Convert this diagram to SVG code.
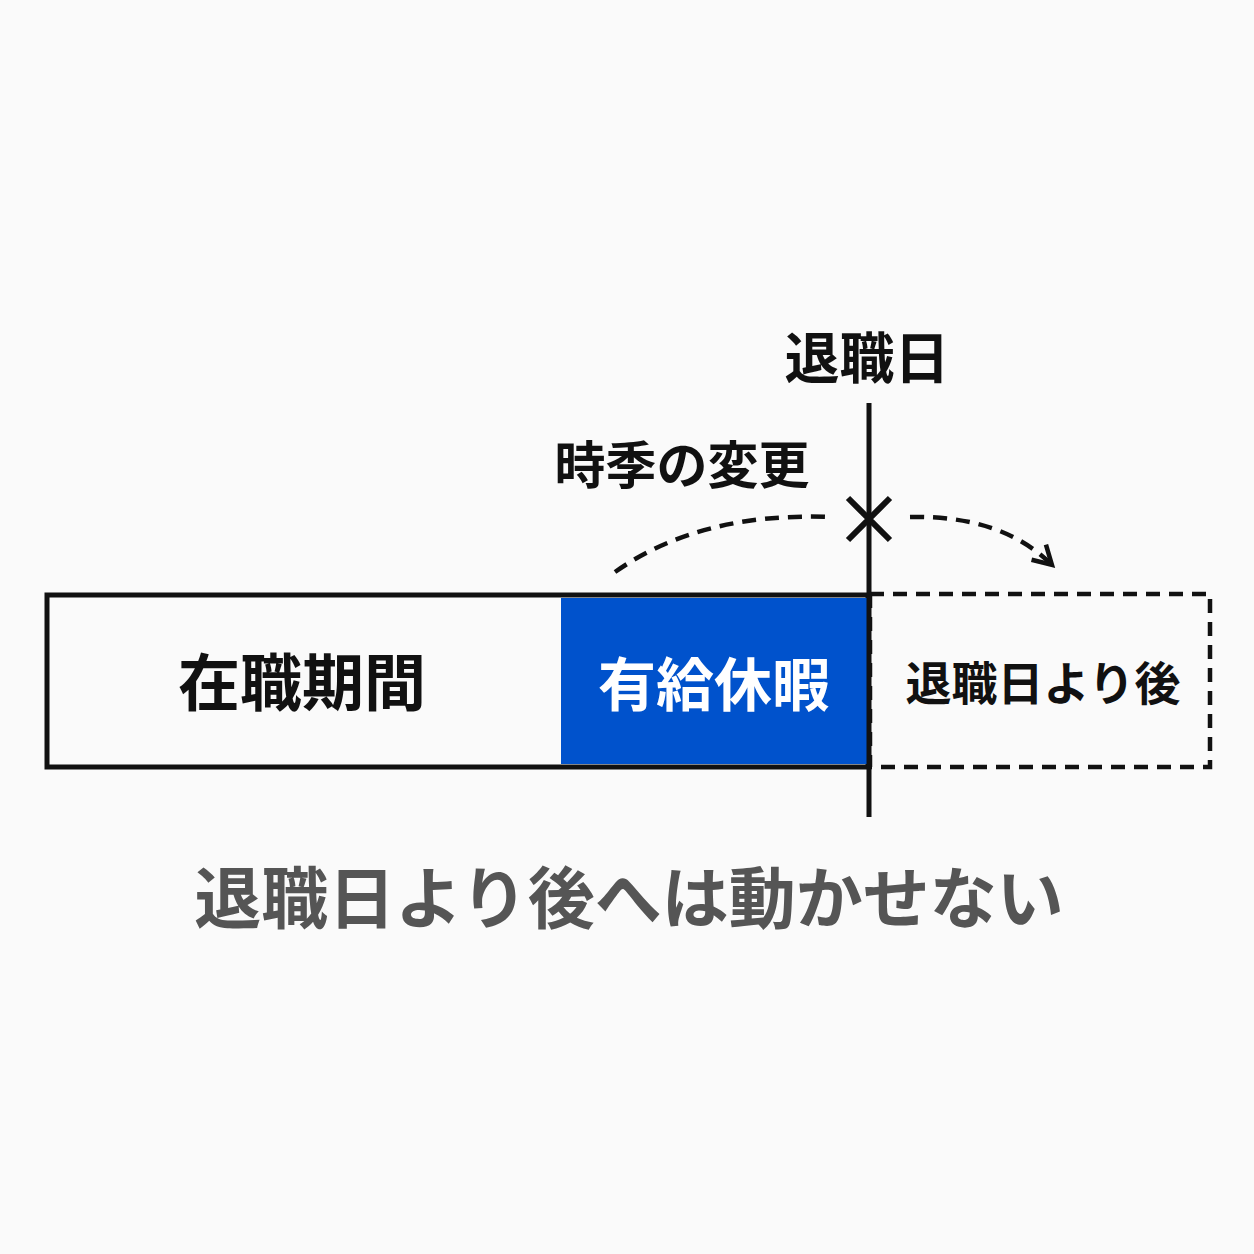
<svg xmlns="http://www.w3.org/2000/svg" width="1254" height="1254" viewBox="0 0 1254 1254">
<style>
text{font-family:"Noto Sans CJK JP",sans-serif;font-weight:bold;text-anchor:middle}
.k{stroke:#111;stroke-width:5;fill:none}
.d{stroke:#111;stroke-width:4.5;fill:none;stroke-dasharray:14 9}
</style>
<defs>
<marker id="ah2" viewBox="0 0 20 20" refX="14" refY="10" markerWidth="26" markerHeight="26" orient="auto" markerUnits="userSpaceOnUse"><path d="M2,2 L16,10 L2,18" fill="none" stroke="#111" stroke-width="3.5"/></marker></defs>
<rect width="1254" height="1254" fill="#fafafa"/>
<g id="period"><rect x="47" y="595" width="821" height="172" fill="#fff" class="k"/><text x="302" y="706" font-size="62" fill="#111">在職期間</text></g>
<g id="leave"><rect x="561" y="598" width="306" height="166" fill="#0052cc"/><text x="714" y="706" font-size="58" fill="#fff">有給休暇</text></g>
<g id="after"><rect x="870" y="594" width="340" height="173" class="d"/><text x="1043" y="700" font-size="46" fill="#111">退職日より後</text></g>
<g id="title"><text x="867" y="378" font-size="55" fill="#111">退職日</text></g>
<g id="change"><text x="682" y="484" font-size="51" fill="#111">時季の変更</text></g>
<g id="connectors">
<line x1="869" y1="403" x2="869" y2="817" class="k"/>
<path d="M848,498 L890,540 M890,498 L848,540" stroke="#111" stroke-width="6"/>
<path d="M615,572 Q700,512 830,517" class="d"/>
<path d="M910,517 Q1000,515 1050,563" class="d" marker-end="url(#ah2)"/>
</g>
<g id="note"><text x="629" y="923" font-size="67" fill="#555">退職日より後へは動かせない</text></g>
</svg>
